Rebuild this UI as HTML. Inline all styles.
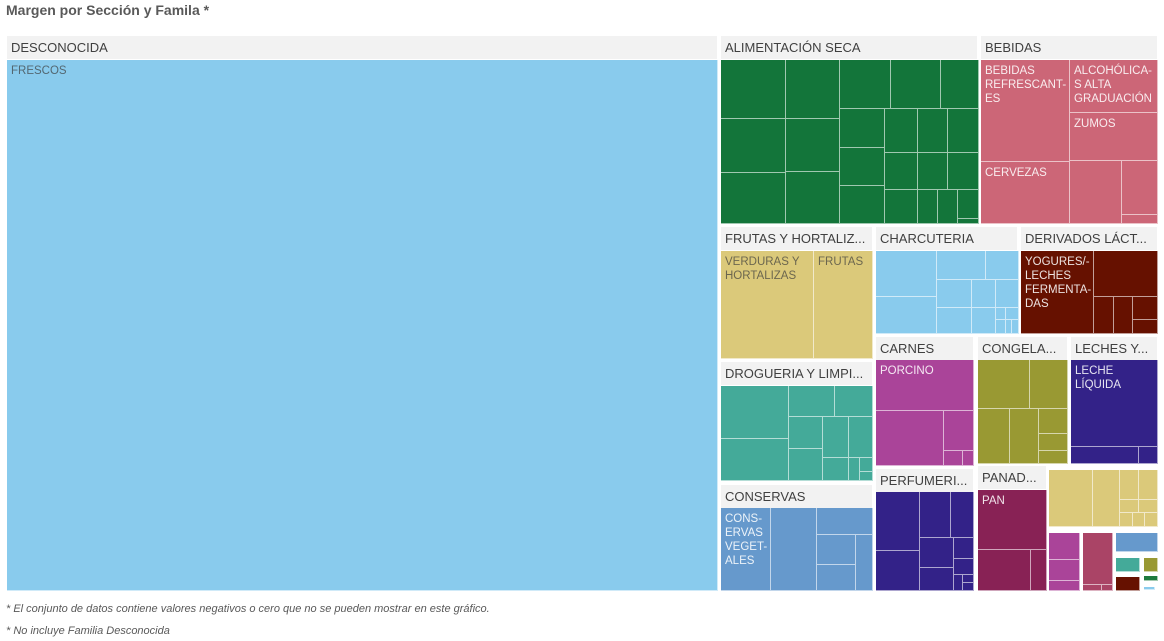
<!DOCTYPE html>
<html><head><meta charset="utf-8">
<style>
body{margin:0;width:1164px;height:641px;background:#fff;font-family:"Liberation Sans",sans-serif;position:relative;overflow:hidden}
.t{position:absolute;left:6px;top:2px;font-size:14px;font-weight:bold;color:#595959}
.h{position:absolute;background:#f2f2f2;color:#404040;font-size:13px;line-height:23px;padding-left:4px;box-sizing:border-box;white-space:nowrap;overflow:hidden}
.c{position:absolute;box-sizing:border-box;border-right:1px solid rgba(255,255,255,.6);border-bottom:1px solid rgba(255,255,255,.6);font-size:11.5px;line-height:14px;padding:0;overflow:hidden;color:rgba(255,255,255,.88)}
.c.lab{padding:4px 4px}
.c.lt{color:rgba(60,60,60,.7)}
.f{position:absolute;left:6px;font-size:11px;font-style:italic;color:#595959}
</style></head><body>
<div class="t">Margen por Sección y Famila *</div>
<div id="tm"></div>
<div class="f" style="top:603px">* El conjunto de datos contiene valores negativos o cero que no se pueden mostrar en este gráfico.</div>
<div class="f" style="top:625px">* No incluye Familia Desconocida</div>
<script>
const sectionNames=["DESCONOCIDA","ALIMENTACIÓN SECA","BEBIDAS","FRUTAS Y HORTALIZ...","CHARCUTERIA","DERIVADOS LÁCT...","CARNES","CONGELA...","LECHES Y...","DROGUERIA Y LIMPI...","CONSERVAS","PERFUMERI...","PANAD..."];
const headerBoxes=[[7,36,717,59],[721,36,977,59],[981,36,1157,59],[721,227,872,250],[876,227,1017,250],[1021,227,1157,250],[876,337,973,360],[978,337,1067,360],[1071,337,1157,360],[721,362,872,385],[721,485,872,508],[876,469,973,492],[978,466,1046,489]];
const G='#13753a',B='#cc6677',Y='#dbc97a',L='#89cbed',M='#661100',P='#aa4499',O='#999933',V='#332288',T='#44aa99',C='#6699cc',R='#882255',RS='#aa4466',GR='#1e7a3e';
const cells=[
[7,60,718,591,L,"FRESCOS",1],
[721,60,786,119,G],[721,119,786,173,G],[721,173,786,224,G],[786,60,840,119,G],[786,119,840,172,G],[786,172,840,224,G],
[840,60,891,109,G],[891,60,941,109,G],[941,60,979,109,G],[840,109,885,148,G],[840,148,885,186,G],[840,186,885,224,G],
[885,109,918,153,G],[918,109,948,153,G],[948,109,979,153,G],[885,153,918,190,G],[918,153,948,190,G],[948,153,979,190,G],
[885,190,918,224,G],[918,190,938,224,G],[938,190,958,224,G],[958,190,979,219,G],[958,219,979,224,G],
[981,60,1070,162,B,"BEBIDAS REFRESCANT-ES"],[981,162,1070,224,B,"CERVEZAS"],[1070,60,1158,113,B,"ALCOHÓLICA-S ALTA GRADUACIÓN"],[1070,113,1158,161,B,"ZUMOS"],[1070,161,1122,224,B],[1122,161,1158,215,B],[1122,215,1158,224,B],
[721,251,814,359,Y,"VERDURAS Y HORTALIZAS",1],[814,251,873,359,Y,"FRUTAS",1],
[876,251,937,297,L],[876,297,937,334,L],[937,251,986,280,L],[986,251,1019,280,L],[937,280,972,308,L],[972,280,996,308,L],[996,280,1019,308,L],[937,308,972,334,L],[972,308,996,334,L],[996,308,1006,320,L],[1006,308,1019,320,L],[996,320,1006,334,L],[1006,320,1012,334,L],[1012,320,1019,334,L],
[1021,251,1094,334,M,"YOGURES/- LECHES FERMENTA-DAS"],[1094,251,1158,297,M],[1094,297,1114,334,M],[1114,297,1133,334,M],[1133,297,1158,320,M],[1133,320,1158,334,M],
[876,360,974,411,P,"PORCINO"],[876,411,944,466,P],[944,411,974,451,P],[944,451,963,466,P],[963,451,974,466,P],
[978,360,1030,409,O],[1030,360,1068,409,O],[978,409,1010,464,O],[1010,409,1039,464,O],[1039,409,1068,434,O],[1039,434,1068,451,O],[1039,451,1068,464,O],
[1071,360,1158,447,V,"LECHE LÍQUIDA"],[1071,447,1139,464,V],[1139,447,1158,464,V],
[721,386,789,439,T],[721,439,789,481,T],[789,386,835,417,T],[835,386,873,417,T],[789,417,823,449,T],[823,417,849,458,T],[849,417,873,458,T],[789,449,823,481,T],[823,458,849,481,T],[849,458,860,481,T],[860,458,873,472,T],[860,472,873,481,T],
[721,508,771,591,C,"CONS- ERVAS VEGET- ALES"],[771,508,817,591,C],[817,508,873,535,C],[817,535,856,565,C],[817,565,856,591,C],[856,535,873,591,C],
[876,492,920,551,V],[876,551,920,591,V],[920,492,951,538,V],[951,492,974,538,V],[920,538,954,568,V],[954,538,974,559,V],[954,559,974,575,V],[920,568,954,591,V],[954,575,963,591,V],[963,575,974,583,V],[963,583,974,591,V],
[978,490,1047,550,R,"PAN"],[978,550,1031,591,R],[1031,550,1047,591,R],
[1049,470,1093,527,Y],[1093,470,1120,527,Y],[1120,470,1139,500,Y],[1139,470,1158,500,Y],[1120,500,1139,513,Y],[1139,500,1158,513,Y],[1120,513,1133,527,Y],[1133,513,1145,527,Y],[1145,513,1158,527,Y],
[1049,533,1080,560,P],[1049,560,1080,581,P],[1049,581,1080,591,P],
[1083,533,1113,585,RS],[1083,585,1102,591,RS],[1102,585,1113,591,RS],
[1116,533,1158,552,C],[1116,558,1140,572,T],[1144,558,1158,572,O],[1116,577,1140,591,M],[1144,576,1158,581,GR],[1144,587,1155,590,L]
];
const tm=document.getElementById('tm');
sectionNames.forEach((n,i)=>{const b=headerBoxes[i];const d=document.createElement('div');d.className='h';
d.style.cssText=`left:${b[0]}px;top:${b[1]}px;width:${b[2]-b[0]}px;height:${b[3]-b[1]}px`;d.textContent=n;


tm.appendChild(d);});
cells.forEach(c=>{const d=document.createElement('div');d.className='c'+(c[5]?' lab':'')+(c[6]?' lt':'');
d.style.cssText=`left:${c[0]}px;top:${c[1]}px;width:${c[2]-c[0]}px;height:${c[3]-c[1]}px;background:${c[4]}`;
if(c[5])d.textContent=c[5];


tm.appendChild(d);});
</script>
</body></html>
